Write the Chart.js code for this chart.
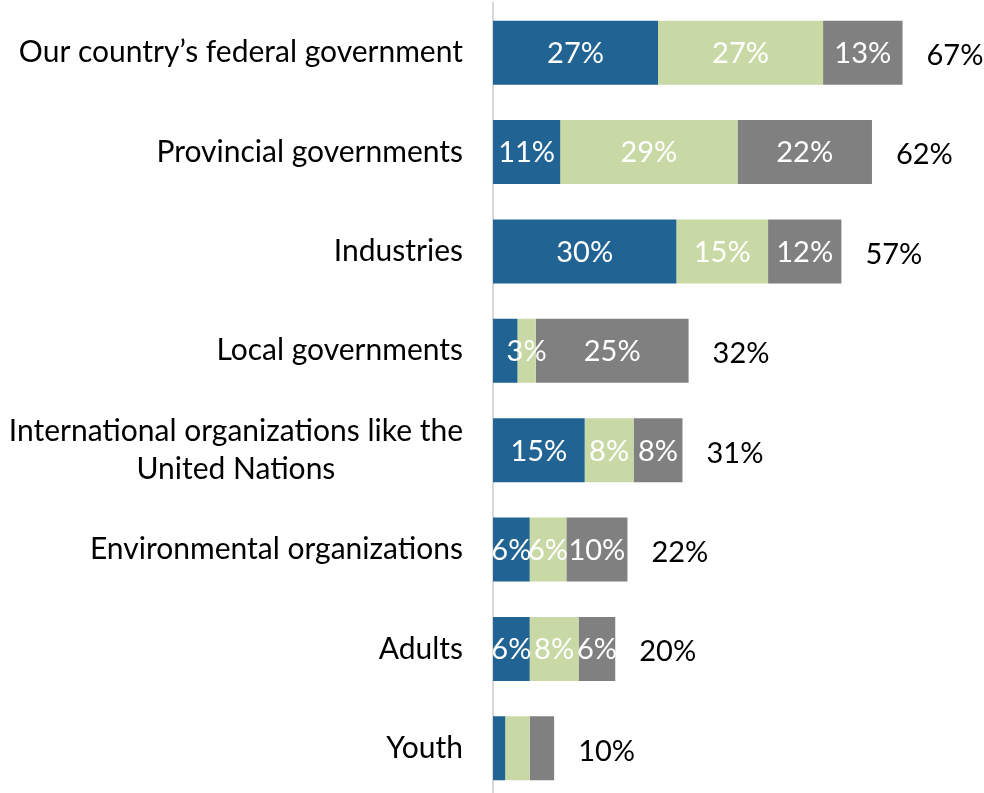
<!DOCTYPE html>
<html>
<head>
<meta charset="utf-8">
<script src="https://cdn.jsdelivr.net/npm/chart.js@4.4.0/dist/chart.umd.min.js"></script>
<style>
  html, body { margin: 0; padding: 0; background: #fff; overflow: hidden; }
  #wrap { width: 984px; height: 800px; position: relative; }
</style>
</head>
<body>
<div id="wrap"><canvas id="chart"></canvas></div>
<script>
// Categories (multi-line labels are given as arrays of lines)
const categories = [
  ["Our country’s federal government"],
  ["Provincial governments"],
  ["Industries"],
  ["Local governments"],
  ["International organizations like the", "United Nations"],
  ["Environmental organizations"],
  ["Adults"],
  ["Youth"]
];

// Stacked segment values (%)
const seriesBlue  = [27, 11, 30, 4, 15, 6, 6, 2];
const seriesGreen = [27, 29, 15, 3,  8, 6, 8, 4];
const seriesGrey  = [13, 22, 12, 25, 8, 10, 6, 4];

// Which segment values get an in-bar label
const labelBlue  = [true, true, true, false, true, true, true, false];
const labelGreen = [true, true, true, true,  true, true, true, false];
const labelGrey  = [true, true, true, true,  true, true, true, false];

const FONT = "Lato, 'Open Sans', sans-serif";
const VALUE_SIZE = 29;
const CAT_SIZE = 30;

const labelPlugin = {
  id: 'barLabels',
  afterDatasetsDraw(chart) {
    const ctx = chart.ctx;
    const flags = [labelBlue, labelGreen, labelGrey];
    ctx.save();
    ctx.font = `${VALUE_SIZE}px ${FONT}`;
    ctx.textBaseline = 'middle';
    ctx.textAlign = 'center';
    ctx.fillStyle = '#ffffff';
    chart.data.datasets.forEach((ds, di) => {
      const meta = chart.getDatasetMeta(di);
      meta.data.forEach((bar, i) => {
        if (!flags[di][i]) return;
        const cx = (bar.x + bar.base) / 2;
        ctx.fillText(ds.data[i] + '%', cx, bar.y + 1);
      });
    });
    // totals to the right of each stack
    const last = chart.getDatasetMeta(chart.data.datasets.length - 1);
    ctx.fillStyle = '#000000';
    ctx.textAlign = 'left';
    last.data.forEach((bar, i) => {
      const total = chart.data.datasets.reduce((s, ds) => s + ds.data[i], 0);
      ctx.fillText(total + '%', bar.x + 24, bar.y + 3);
    });
    // category labels, right-aligned block; lines centered inside the block
    ctx.font = `${CAT_SIZE}px ${FONT}`;
    const y = chart.scales.y;
    const right = y.right - 30;
    const lineH = 38;
    categories.forEach((lines, i) => {
      const cy = y.getPixelForValue(i);
      const widths = lines.map(l => ctx.measureText(l).width);
      const blockW = Math.max(...widths);
      const mid = right - blockW / 2;
      ctx.textAlign = 'center';
      lines.forEach((l, k) => {
        const ly = cy + (k - (lines.length - 1) / 2) * lineH;
        ctx.fillText(l, mid, ly);
      });
    });
    ctx.restore();
  }
};

new Chart(document.getElementById('chart'), {
  type: 'bar',
  data: {
    labels: categories.map(c => c.join(' ')),
    datasets: [
      { label: 'Series 1', data: seriesBlue,  backgroundColor: '#216393' },
      { label: 'Series 2', data: seriesGreen, backgroundColor: '#C9D9A5' },
      { label: 'Series 3', data: seriesGrey,  backgroundColor: '#808080' }
    ]
  },
  options: {
    indexAxis: 'y',
    responsive: true,
    maintainAspectRatio: false,
    animation: false,
    layout: { padding: { top: 3, bottom: 2, right: 2, left: 0 } },
    datasets: { bar: { categoryPercentage: 1, barPercentage: 0.645, borderWidth: 0 } },
    plugins: { legend: { display: false }, tooltip: { enabled: false } },
    scales: {
      x: { stacked: true, display: false, min: 0, max: 80 },
      y: {
        stacked: true,
        ticks: { display: false },
        grid: { display: false },
        border: { display: true, color: '#D9D9D9', width: 2 },
        afterFit(scale) { scale.width = 493; }
      }
    }
  },
  plugins: [labelPlugin]
});
</script>
</body>
</html>
